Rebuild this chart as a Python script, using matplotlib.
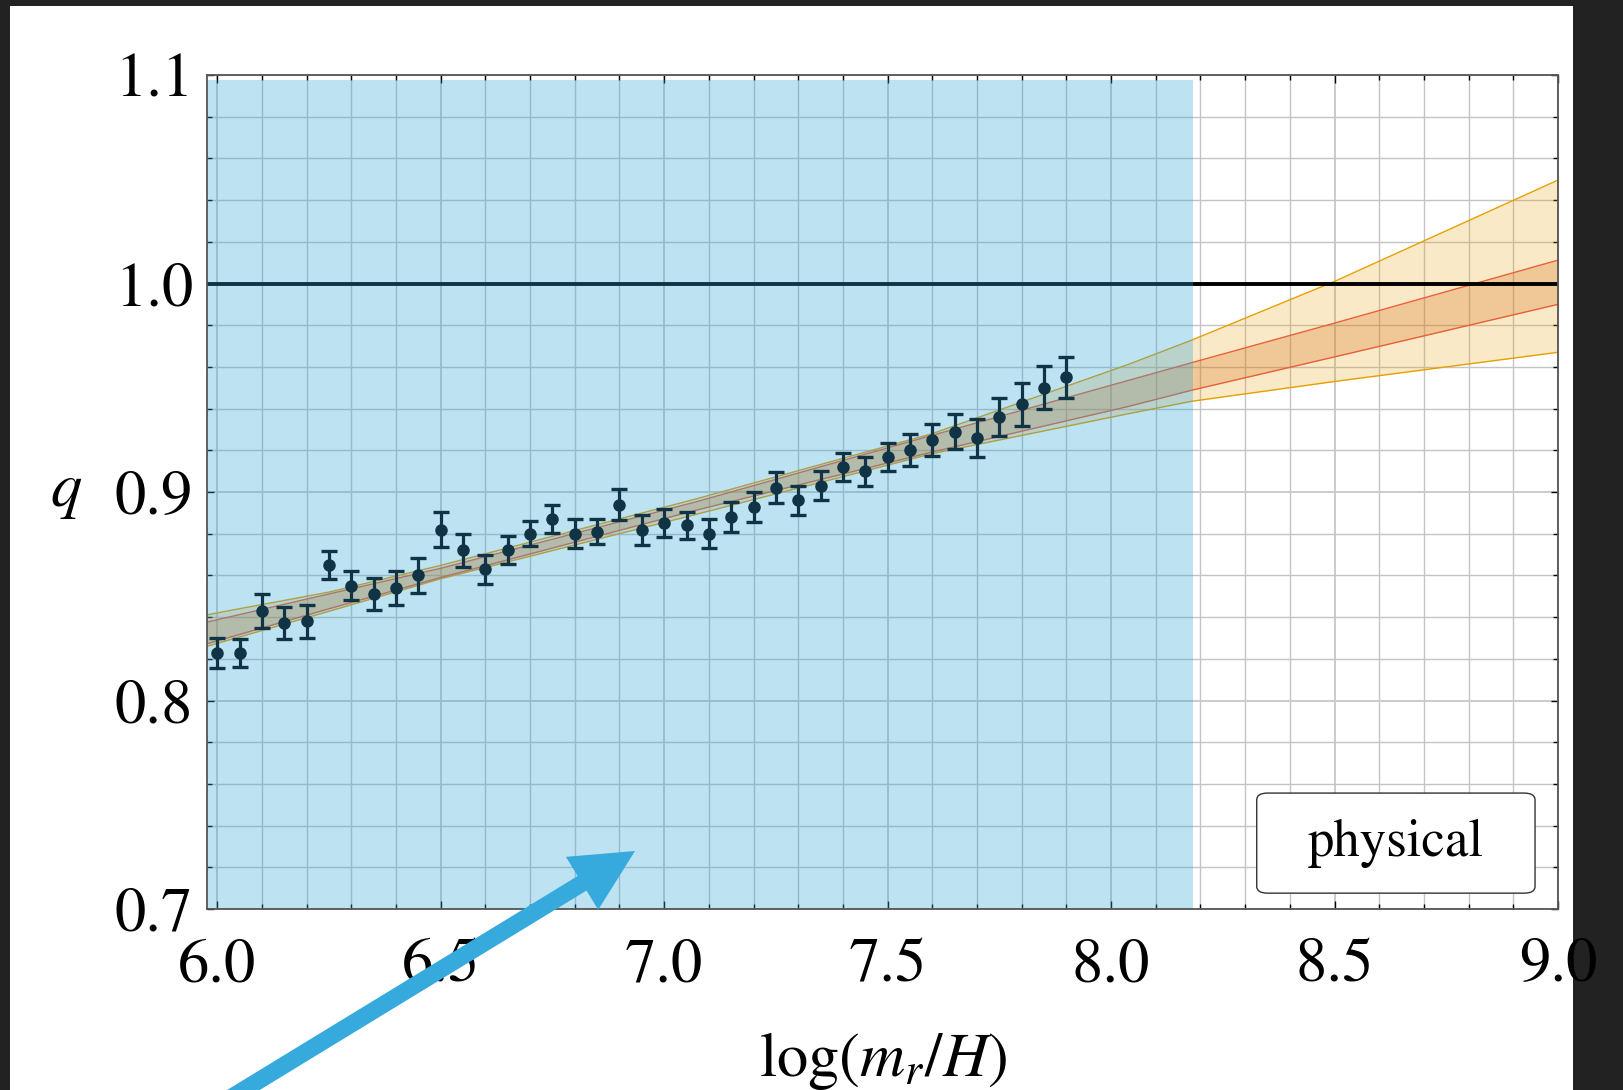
import matplotlib
matplotlib.use('Agg')
from matplotlib import pyplot as plt
from matplotlib.patches import Rectangle, FancyBboxPatch, FancyArrow
from matplotlib.transforms import IdentityTransform
import matplotlib.ticker as mticker

plt.rcParams['font.family'] = ['STIXGeneral', 'Liberation Serif', 'DejaVu Serif']
plt.rcParams['mathtext.fontset'] = 'stix'

# measured points
log_mr_H = [6.00, 6.05, 6.10, 6.15, 6.20, 6.25, 6.30, 6.35, 6.40, 6.45,
            6.50, 6.55, 6.60, 6.65, 6.70, 6.75, 6.80, 6.85, 6.90, 6.95,
            7.00, 7.05, 7.10, 7.15, 7.20, 7.25, 7.30, 7.35, 7.40, 7.45,
            7.50, 7.55, 7.60, 7.65, 7.70, 7.75, 7.80, 7.85, 7.90]
q_vals = [0.823, 0.823, 0.843, 0.837, 0.838, 0.865, 0.855, 0.851, 0.854, 0.860,
          0.882, 0.872, 0.863, 0.872, 0.880, 0.887, 0.880, 0.881, 0.894, 0.882,
          0.885, 0.884, 0.880, 0.888, 0.893, 0.902, 0.896, 0.903, 0.912, 0.910,
          0.917, 0.920, 0.925, 0.929, 0.926, 0.936, 0.942, 0.950, 0.955]
q_err = [0.0072, 0.0067, 0.0080, 0.0077, 0.0080, 0.0065, 0.0070, 0.0078, 0.0080, 0.0085,
         0.0082, 0.0080, 0.0069, 0.0067, 0.0060, 0.0069, 0.0069, 0.0061, 0.0072, 0.0072,
         0.0067, 0.0065, 0.0069, 0.0074, 0.0072, 0.0075, 0.0070, 0.0070, 0.0066, 0.0069,
         0.0067, 0.0077, 0.0077, 0.0085, 0.0090, 0.0093, 0.0104, 0.0104, 0.0099]

# fit bands
band_x = [5.977, 6.25, 6.5, 7.07, 7.6, 8.04, 8.18, 8.5, 9.0]
wide_hi = [0.8411, 0.8520, 0.8648, 0.8966, 0.9280, 0.9613, 0.9728, 1.0010, 1.0496]
wide_lo = [0.8260, 0.8428, 0.8584, 0.8892, 0.9184, 0.9376, 0.9435, 0.9530, 0.9670]
narrow_hi = [0.8376, 0.8511, 0.8634, 0.8952, 0.9272, 0.9536, 0.9620, 0.9810, 1.0112]
narrow_lo = [0.8272, 0.8440, 0.8590, 0.8912, 0.9192, 0.9411, 0.9488, 0.9648, 0.9900]

x_ticks = [6.0, 6.5, 7.0, 7.5, 8.0, 8.5, 9.0]
y_ticks = [0.7, 0.8, 0.9, 1.0, 1.1]

fit_region = (5.977, 8.183)

W, H = 1623, 1090
fig = plt.figure(figsize=(W / 100, H / 100), dpi=100)
fig.patch.set_facecolor('#222222')
fig.add_artist(Rectangle((10 / W, 0), 1563 / W, 1084 / H, transform=fig.transFigure,
                         facecolor='white', edgecolor='none', zorder=-10))

ax = fig.add_axes([207 / W, (H - 909) / H, (1558 - 207) / W, (909 - 75) / H])

orange = '#E69F00'
red = '#E8603A'
ax.fill_between(band_x, wide_lo, wide_hi, color=orange, alpha=0.22, lw=0, zorder=1.5)
ax.plot(band_x, wide_hi, color=orange, lw=1.0, zorder=1.6)
ax.plot(band_x, wide_lo, color=orange, lw=1.0, zorder=1.6)
ax.fill_between(band_x, narrow_lo, narrow_hi, color='#D55E00', alpha=0.24, lw=0, zorder=1.7)
ax.plot(band_x, narrow_hi, color=red, lw=1.0, zorder=1.8)
ax.plot(band_x, narrow_lo, color=red, lw=1.0, zorder=1.8)

ax.axhline(1.0, color='black', lw=2.8, zorder=2)

ax.errorbar(log_mr_H, q_vals, yerr=q_err, fmt='o', color='black', ms=8,
            elinewidth=2.3, capsize=5.5, capthick=2.4, zorder=2.2)

# shaded region on top
ax.add_patch(Rectangle((fit_region[0], 0.7), fit_region[1] - fit_region[0], 0.3976,
                       facecolor='#33a5d8', alpha=0.32, edgecolor='none', zorder=2.4))

ax.set_xlim(5.977, 9.0)
ax.set_ylim(0.7, 1.1)
ax.set_xticks(x_ticks)
ax.set_xticklabels(['%.1f' % v for v in x_ticks])
ax.set_yticks(y_ticks)
ax.set_yticklabels(['%.1f' % v for v in y_ticks])
ax.xaxis.set_minor_locator(mticker.MultipleLocator(0.1))
ax.yaxis.set_minor_locator(mticker.MultipleLocator(0.02))
ax.tick_params(which='both', direction='in', top=True, right=True, labelsize=45, width=1.0)
ax.tick_params(axis='x', which='major', length=6, pad=21)
ax.tick_params(axis='y', which='major', length=5, pad=10)
ax.tick_params(which='minor', length=3.5)
ax.set_axisbelow(True)
ax.grid(which='major', color='#cbcbcb', lw=1.4)
ax.grid(which='minor', color='#c4c4c4', lw=1.0)
for s in ax.spines.values():
    s.set_color('#555555')
    s.set_linewidth(1.3)
    s.set_zorder(3)

ax.set_xlabel(r'$\log(m_r/H)$', fontsize=45, va='center')
ax.xaxis.set_label_coords(0.5, -0.182)
ax.set_ylabel(r'$q$', fontsize=45, rotation=0, ha='center', va='center')
ax.yaxis.set_label_coords(-0.104, 0.5)

# legend-like box
ax.add_patch(FancyBboxPatch((0.777, 0.019), 0.206, 0.12, transform=ax.transAxes,
                            boxstyle='round,pad=0,rounding_size=0.008',
                            facecolor='white', edgecolor='#333333', lw=1.0, zorder=4))
ax.text(0.88, 0.079, 'physical', transform=ax.transAxes, fontsize=38,
        ha='center', va='center', zorder=5)

# annotation arrow (pixel coords)
fig.add_artist(FancyArrow(227, -10, 635 - 227, (H - 851) + 10, width=17,
                          head_width=62, head_length=62, length_includes_head=True,
                          color='#36a9dd', lw=0, transform=IdentityTransform(), zorder=10))

fig.savefig('out.png', dpi=100, facecolor=fig.get_facecolor())
